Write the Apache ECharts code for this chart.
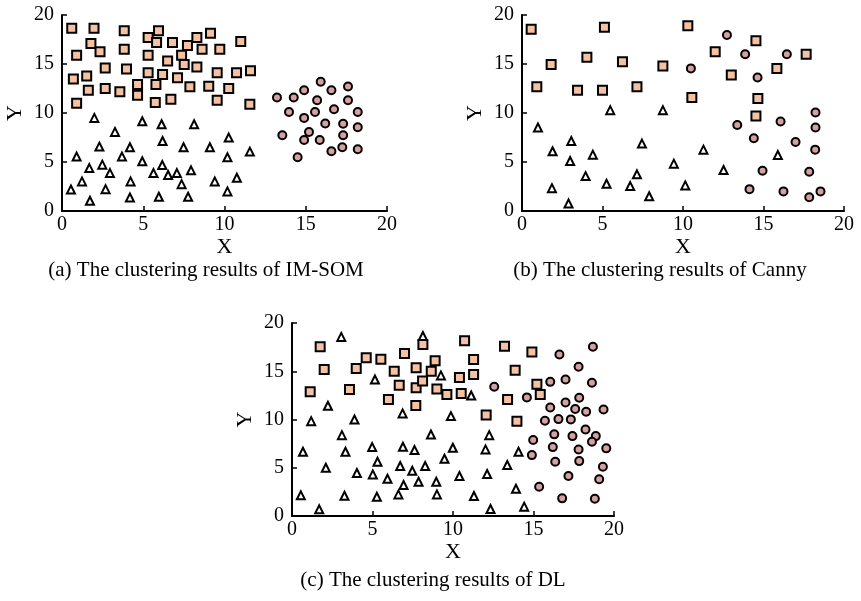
<!DOCTYPE html>
<html>
<head>
<meta charset="utf-8">
<script src="https://cdn.jsdelivr.net/npm/echarts@6/dist/echarts.min.js"></script>
<style>
  html, body { margin: 0; padding: 0; background: #fff; }
  #chart { width: 861px; height: 601px; }
</style>
</head>
<body>
<div id="chart"></div>
<script>
// (a) IM-SOM
const aSquares = [
  [0.6, 18.65], [1.97, 18.65], [3.83, 18.4], [5.94, 18.4], [0.9, 15.9], [1.78, 17.1],
  [2.34, 16.25], [3.83, 16.5], [5.3, 17.7], [5.82, 17.2], [6.8, 17.2], [7.72, 16.9],
  [8.3, 17.7], [7.36, 15.9], [5.3, 15.9], [6.5, 15.3], [7.52, 14.96], [8.3, 14.7],
  [0.7, 13.46], [1.52, 13.77], [2.66, 14.6], [3.97, 14.5], [5.3, 14.1], [6.19, 13.94],
  [7.11, 13.6], [0.9, 11.0], [1.62, 12.33], [2.66, 12.5], [3.56, 12.16], [4.65, 12.9],
  [4.65, 11.8], [5.78, 12.9], [5.74, 11.07], [6.7, 11.4], [7.87, 12.67],
  [9.14, 18.14], [8.62, 16.5], [9.71, 16.5], [11.0, 17.3], [9.55, 14.1], [10.74, 14.1],
  [11.6, 14.3], [9.03, 12.74], [10.26, 12.5], [9.55, 11.3], [11.56, 10.9]
];
const aTriangles = [
  [1.99, 9.5], [4.94, 9.16], [6.13, 8.85], [8.13, 8.85], [3.26, 8.07], [2.3, 6.57],
  [4.18, 6.5], [6.19, 7.15], [7.48, 6.5], [0.9, 5.55], [3.69, 5.55], [4.94, 5.07],
  [1.68, 4.38], [2.48, 4.73], [2.95, 3.87], [6.17, 4.69], [5.63, 3.87], [6.53, 3.67],
  [7.07, 3.87], [7.94, 4.15], [1.23, 3.02], [4.22, 3.02], [7.36, 2.74], [0.55, 2.2],
  [2.68, 2.23], [1.72, 1.04], [4.18, 1.38], [5.96, 1.45], [7.76, 1.45],
  [10.26, 7.49], [9.1, 6.5], [10.18, 5.48], [11.56, 6.06], [9.4, 3.02], [10.76, 3.4],
  [10.18, 2.0]
];
const aCircles = [
  [13.23, 11.59], [14.26, 11.59], [14.9, 12.33], [15.92, 13.18], [16.58, 12.33], [17.6, 12.7],
  [15.7, 11.3], [17.6, 11.3], [13.97, 10.1], [14.9, 9.5], [15.57, 10.1], [16.74, 10.39],
  [18.2, 10.1], [16.2, 8.92], [17.3, 8.9], [18.2, 8.55], [13.56, 7.73], [15.2, 8.07],
  [14.9, 7.25], [15.86, 7.25], [17.3, 7.73], [16.58, 6.09], [17.25, 6.5], [18.2, 6.3],
  [14.5, 5.48]
];

// (b) Canny
const bSquares = [
  [0.57, 18.55], [0.92, 12.67], [1.81, 14.96], [4.03, 15.68], [3.45, 12.33], [5.0, 12.33],
  [5.12, 18.75], [6.24, 15.23], [7.14, 12.67], [8.75, 14.79], [10.3, 18.9], [12.0, 16.25],
  [14.53, 17.38], [13.0, 13.87], [15.83, 14.55], [17.65, 15.99], [10.55, 11.59],
  [14.65, 11.48], [14.53, 9.7]
];
const bTriangles = [
  [5.48, 10.29], [8.75, 10.29], [0.99, 8.52], [3.06, 7.15], [1.9, 6.09], [4.4, 5.75],
  [2.99, 5.1], [7.45, 6.88], [3.95, 3.56], [7.14, 3.74], [5.25, 2.78], [6.72, 2.54],
  [1.86, 2.33], [7.9, 1.51], [2.89, 0.77], [11.27, 6.26], [9.43, 4.83], [12.52, 4.18],
  [10.14, 2.61], [15.89, 5.71]
];
const bCircles = [
  [12.73, 17.96], [13.86, 15.99], [16.45, 15.99], [10.49, 14.55], [14.63, 13.63],
  [18.23, 10.05], [13.37, 8.78], [16.06, 9.13], [18.23, 8.52], [14.4, 7.42], [16.99, 7.04],
  [18.21, 6.26], [14.94, 4.11], [17.84, 4.01], [14.13, 2.23], [16.24, 2.0], [17.84, 1.41],
  [18.54, 2.0]
];

// (c) DL
const cSquares = [
  [1.75, 17.53], [2.0, 15.18], [1.13, 12.87], [3.99, 15.29], [3.57, 13.11], [4.61, 16.39],
  [5.52, 16.25], [5.99, 12.08], [6.35, 15.01], [6.66, 13.56], [6.99, 16.84], [7.71, 15.35],
  [7.71, 13.28], [8.11, 14.0], [7.69, 11.46], [8.13, 17.77], [8.65, 15.01], [8.89, 16.08],
  [9.0, 13.15], [10.72, 18.15], [11.28, 16.22], [10.4, 14.34], [11.28, 14.67], [9.62, 12.6],
  [10.51, 12.7], [13.2, 17.6], [14.9, 17.0], [13.86, 15.11], [12.06, 10.46], [13.39, 12.08],
  [15.21, 13.66], [15.42, 12.6], [13.97, 9.83]
];
const cTriangles = [
  [3.06, 18.56], [8.13, 18.66], [5.15, 14.15], [2.23, 11.42], [1.19, 9.83], [3.88, 10.0],
  [6.87, 10.63], [3.1, 8.38], [8.63, 8.45], [0.68, 6.66], [3.32, 6.66], [4.98, 7.14],
  [6.89, 7.18], [7.61, 6.83], [2.1, 5.0], [5.31, 5.62], [4.03, 4.45], [5.02, 4.31],
  [6.72, 5.18], [7.47, 4.69], [8.27, 5.18], [5.93, 3.86], [6.93, 3.21], [7.86, 3.55],
  [8.96, 3.55], [0.55, 2.14], [3.26, 2.1], [5.27, 2.0], [6.61, 2.24], [9.0, 2.24],
  [1.69, 0.69], [9.25, 14.57], [11.13, 12.49], [9.87, 10.35], [12.25, 8.38], [9.99, 7.07],
  [12.02, 6.9], [14.07, 6.66], [9.47, 5.93], [13.37, 5.28], [10.4, 4.14], [12.12, 4.35],
  [13.91, 2.83], [11.3, 2.07], [12.33, 0.72], [14.42, 0.97]
];
const cCircles = [
  [12.56, 13.39], [14.59, 12.29], [16.04, 13.9], [16.99, 14.15], [16.61, 16.74], [18.69, 17.53],
  [17.8, 15.46], [18.63, 13.8], [16.04, 11.25], [16.99, 11.77], [17.84, 12.25], [17.59, 11.08],
  [18.27, 10.8], [19.35, 11.04], [15.71, 9.87], [16.55, 10.04], [17.32, 10.01], [16.29, 8.46],
  [17.42, 8.28], [18.23, 8.97], [18.87, 8.28], [18.63, 7.69], [14.98, 7.87], [16.2, 7.14],
  [17.8, 6.9], [19.52, 7.01], [14.9, 6.31], [16.35, 5.62], [17.84, 5.69], [19.31, 5.1],
  [17.17, 4.14], [19.08, 3.8], [15.35, 3.03], [16.78, 1.83], [18.81, 1.79]
];

const captions = [
  '(a) The clustering results of IM-SOM',
  '(b) The clustering results of Canny',
  '(c) The clustering results of DL'
];

const FONT = "'Liberation Serif', serif";

const chart = echarts.init(document.getElementById('chart'));

const grids = [
  {left: 62, top: 15, width: 325, height: 196},
  {left: 522, top: 15, width: 322, height: 196},
  {left: 292, top: 323, width: 322, height: 193}
];

function xAxis(i) {
  return {
    gridIndex: i, type: 'value', min: 0, max: 20, interval: 5,
    name: 'X', nameLocation: 'middle', nameGap: 22,
    nameTextStyle: {fontFamily: FONT, fontSize: 22, color: '#000'},
    axisLine: {lineStyle: {color: '#000', width: 2}},
    axisTick: {inside: true, length: 5, lineStyle: {color: '#000', width: 1.5}},
    axisLabel: {fontFamily: FONT, fontSize: 20, color: '#000', margin: 4},
    splitLine: {show: false}
  };
}

function yAxis(i) {
  return {
    gridIndex: i, type: 'value', min: 0, max: 20, interval: 5,
    name: 'Y', nameLocation: 'middle', nameGap: 36, nameRotate: 90,
    nameTextStyle: {fontFamily: FONT, fontSize: 22, color: '#000'},
    axisLine: {lineStyle: {color: '#000', width: 2}},
    axisTick: {inside: true, length: 5, lineStyle: {color: '#000', width: 1.5}},
    axisLabel: {fontFamily: FONT, fontSize: 20, color: '#000', margin: 8},
    splitLine: {show: false}
  };
}

function series(i, data, kind) {
  const styles = {
    square: {symbol: 'rect', size: 9, color: '#f4c2a2'},
    circle: {symbol: 'circle', size: 8, color: '#d6a0a0'},
    triangle: {symbol: 'triangle', size: 8, color: '#ffffff'}
  };
  const s = styles[kind];
  return {
    type: 'scatter', xAxisIndex: i, yAxisIndex: i,
    symbol: s.symbol, symbolSize: s.size, data: data,
    itemStyle: {color: s.color, borderColor: '#000', borderWidth: 2, opacity: 1},
    emphasis: {disabled: true},
    animation: false
  };
}

const sets = [
  [aSquares, aTriangles, aCircles],
  [bSquares, bTriangles, bCircles],
  [cSquares, cTriangles, cCircles]
];

let allSeries = [];
sets.forEach(function(set, i) {
  allSeries.push(series(i, set[0], 'square'));
  allSeries.push(series(i, set[1], 'triangle'));
  allSeries.push(series(i, set[2], 'circle'));
});

const captionPos = [[206, 270], [660, 270], [433, 580]];

chart.setOption({
  backgroundColor: '#fff',
  animation: false,
  textStyle: {fontFamily: FONT},
  grid: grids,
  xAxis: [xAxis(0), xAxis(1), xAxis(2)],
  yAxis: [yAxis(0), yAxis(1), yAxis(2)],
  series: allSeries,
  graphic: captions.map(function(t, i) {
    return {
      type: 'text', x: captionPos[i][0], y: captionPos[i][1],
      style: {text: t, font: '21px ' + FONT, fill: '#000', textAlign: 'center', textVerticalAlign: 'middle'}
    };
  })
});
</script>
</body>
</html>
